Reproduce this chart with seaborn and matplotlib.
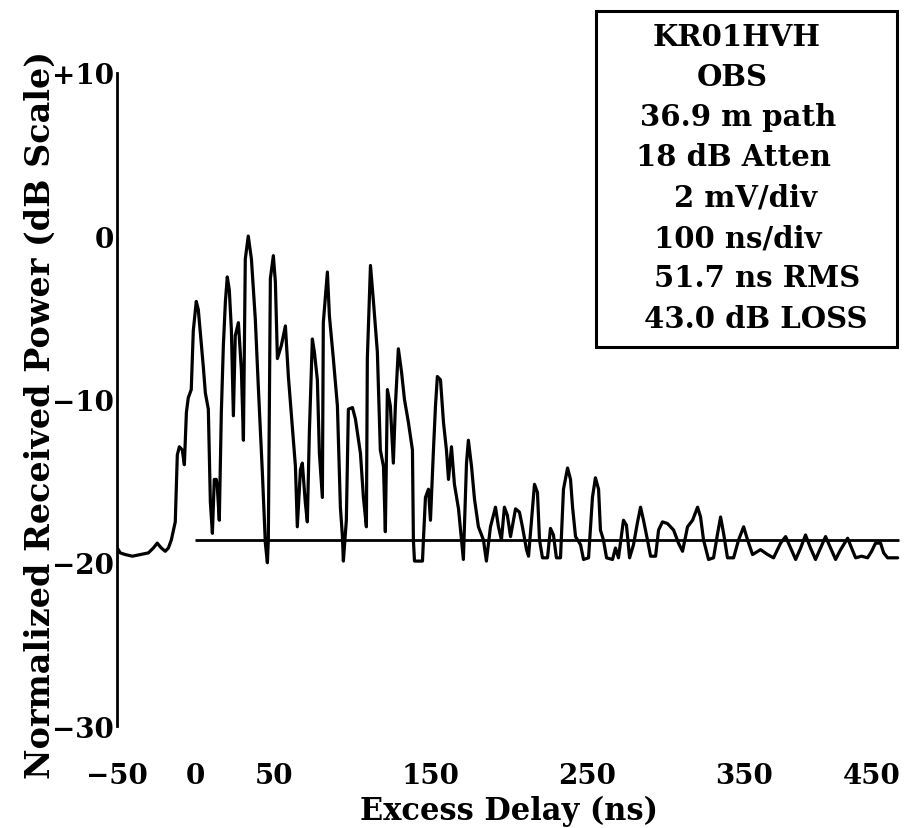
import numpy as np
import pandas as pd
import matplotlib
matplotlib.use("Agg")
import matplotlib.pyplot as plt
import seaborn as sns

# ---- data ----
delay_ns = [
    -49.8, -47.9, -44.7, -40.2, -35.1, -30.0, -26.8, -24.3, -21.7, -19.2,
    -17.2, -15.3, -12.8, -11.5, -10.2, -8.3, -7.0, -5.7, -4.5, -2.6,
    -1.3, 0.6, 1.9, 3.2, 5.1, 6.4, 8.3, 9.6, 10.9, 12.1,
    13.4, 14.0, 15.3, 16.6, 17.9, 19.2, 20.4, 21.7, 23.0, 24.3,
    25.5, 27.5, 29.4, 30.7, 31.9, 33.8, 35.8, 38.3, 40.2, 42.8,
    44.7, 46.0, 46.6, 47.9, 49.8, 51.1, 52.4, 54.9, 57.5, 59.4,
    61.9, 63.9, 65.1, 67.1, 68.3, 70.2, 71.5, 72.8, 74.7, 76.0,
    77.9, 79.2, 81.1, 81.7, 84.3, 85.6, 88.1, 90.7, 92.6, 93.9,
    94.5, 96.4, 97.7, 100.3, 102.2, 105.4, 107.3, 109.2, 109.8, 111.8,
    113.7, 116.2, 118.1, 120.1, 121.3, 122.6, 124.5, 126.4, 127.7, 129.6,
    131.6, 133.5, 136.0, 138.6, 139.2, 139.9, 145.0, 145.6, 146.9, 148.8,
    150.1, 152.0, 153.3, 154.5, 156.5, 158.4, 160.3, 161.6, 163.5, 165.4,
    168.0, 169.9, 171.1, 173.1, 174.3, 176.3, 178.2, 180.7, 183.9, 185.8,
    188.4, 191.6, 193.5, 195.4, 197.3, 199.2, 201.2, 204.4, 206.9, 208.8,
    211.4, 212.7, 215.2, 216.5, 218.4, 219.7, 221.6, 224.8, 226.7, 228.6,
    230.5, 233.1, 235.0, 237.6, 239.5, 240.8, 242.7, 245.9, 247.8, 251.0,
    253.5, 255.4, 257.4, 258.6, 260.5, 262.5, 266.3, 268.2, 270.1, 273.3,
    275.2, 277.2, 279.7, 282.3, 284.2, 286.1, 288.6, 290.6, 293.8, 295.7,
    298.2, 301.4, 305.3, 308.4, 311.0, 314.2, 317.4, 320.6, 322.5, 324.4,
    327.6, 330.8, 333.4, 335.3, 337.2, 339.7, 343.6, 346.8, 350.0, 352.5,
    355.7, 360.8, 365.3, 369.1, 373.6, 376.8, 380.0, 383.2, 386.4, 389.5,
    392.7, 395.9, 399.1, 402.3, 405.5, 408.7, 411.9, 416.4, 418.9, 421.5,
    425.3, 429.1, 431.7, 434.2, 437.4, 439.4, 441.9, 448.3,
]
power_db = [
    -19.1, -19.4, -19.5, -19.6, -19.5, -19.4, -19.1, -18.8, -19.1, -19.3,
    -19.1, -18.6, -17.5, -13.4, -12.9, -13.1, -14.0, -10.8, -9.9, -9.4,
    -5.8, -4.0, -4.5, -5.9, -8.0, -9.6, -10.6, -16.3, -18.2, -14.9,
    -14.9, -15.3, -17.4, -10.8, -6.7, -4.0, -2.5, -3.3, -5.7, -11.0,
    -6.1, -5.3, -8.2, -12.5, -1.4, 0.0, -1.4, -5.1, -9.2, -14.5,
    -18.8, -20.0, -18.6, -2.6, -1.2, -2.8, -7.5, -6.7, -5.5, -8.6,
    -11.7, -14.1, -17.8, -14.3, -13.9, -16.3, -17.5, -12.0, -6.3, -7.1,
    -8.8, -13.3, -16.0, -5.3, -2.2, -4.9, -7.5, -10.4, -16.6, -18.4,
    -19.9, -17.4, -10.6, -10.5, -11.2, -13.3, -16.0, -17.8, -7.5, -1.8,
    -4.0, -7.1, -13.1, -14.1, -18.1, -9.4, -10.4, -13.9, -10.4, -6.9,
    -8.3, -10.0, -11.4, -13.1, -18.6, -19.9, -19.9, -18.6, -16.0, -15.5,
    -17.4, -13.1, -10.4, -8.6, -8.8, -11.4, -13.1, -14.9, -12.9, -15.2,
    -16.7, -18.6, -19.8, -13.9, -12.5, -14.1, -16.1, -17.8, -18.6, -19.9,
    -17.8, -16.6, -17.8, -18.6, -16.6, -17.1, -18.4, -16.7, -16.9, -17.8,
    -19.2, -19.6, -16.7, -15.2, -15.7, -18.6, -19.7, -19.7, -17.9, -18.3,
    -19.7, -19.7, -15.5, -14.2, -14.9, -16.6, -18.4, -18.9, -19.8, -19.7,
    -16.0, -14.8, -15.5, -18.0, -18.6, -19.7, -19.8, -19.1, -19.7, -17.4,
    -17.7, -19.7, -18.9, -17.5, -16.6, -17.4, -18.6, -19.6, -19.6, -18.0,
    -17.5, -17.6, -18.0, -18.8, -19.3, -17.8, -17.4, -16.6, -17.2, -18.6,
    -19.8, -19.7, -18.2, -17.2, -18.2, -19.7, -19.7, -18.6, -17.8, -18.6,
    -19.5, -19.2, -19.5, -19.7, -18.8, -18.4, -19.1, -19.8, -19.1, -18.3,
    -19.1, -19.8, -19.1, -18.4, -19.1, -19.8, -19.2, -18.5, -19.1, -19.7,
    -19.6, -19.7, -19.3, -18.8, -18.8, -19.4, -19.7, -19.7,
]

# noise threshold line
threshold_db = -18.6
threshold_start_ns = 0
threshold_end_ns = 449

x_ticks = [-50, 0, 50, 150, 250, 350, 450]
x_tick_labels = ["\u221250", "0", "50", "150", "250", "350", "450"]
y_ticks = [-30, -20, -10, 0, 10]
y_tick_labels = ["\u221230", "\u221220", "\u221210", "0", "+10"]

info_lines = ["KR01HVH", "OBS", "36.9 m path", "18 dB Atten",
              "2 mV/div", "100 ns/div", "51.7 ns RMS", "43.0 dB LOSS"]

df = pd.DataFrame({"delay": delay_ns, "power": power_db})

# ---- style ----
sns.set_theme(style="white")
plt.rcParams["font.family"] = ["DejaVu Serif"]
plt.rcParams["font.weight"] = "bold"

fig = plt.figure(figsize=(9.14, 8.29), dpi=100)
ax = fig.add_axes([0.128, 0.123, 0.857, 0.788])

sns.lineplot(data=df, x="delay", y="power", ax=ax, color="black",
             linewidth=2.3, sort=False, estimator=None)
ax.hlines(threshold_db, threshold_start_ns, threshold_end_ns,
          color="black", linewidth=2.0)

ax.set_xlim(-50, 450)
ax.set_ylim(-30, 10)

for side in ["top", "right", "bottom"]:
    ax.spines[side].set_visible(False)
ax.spines["left"].set_color("black")
ax.spines["left"].set_linewidth(2.0)

ax.set_xticks(x_ticks)
ax.set_xticklabels(x_tick_labels)
ax.set_yticks(y_ticks)
ax.set_yticklabels(y_tick_labels)
ax.tick_params(axis="x", length=0, pad=26, labelsize=20, colors="black")
ax.tick_params(axis="y", direction="in", length=11, width=2.0, pad=2,
               labelsize=20, colors="black")
for lab in ax.get_xticklabels() + ax.get_yticklabels():
    lab.set_fontweight("bold")
# last label sits flush with the right edge, as in the scan
ax.get_xticklabels()[-1].set_horizontalalignment("right")

ax.set_xlabel("Excess Delay (ns)", fontsize=22, fontweight="bold", color="black")
ax.set_ylabel("Normalized Received Power (dB Scale)", fontsize=24,
              fontweight="bold", color="black")
ax.xaxis.set_label_coords(0.5, -0.105)
ax.yaxis.set_label_coords(-0.077, 0.478)

# ---- info box ----
W, H = 914, 829
box = plt.Rectangle((596 / W, 1 - 348 / H), (897 - 596) / W, (348 - 12) / H,
                    transform=fig.transFigure, fill=False, edgecolor="black",
                    linewidth=2.2)
fig.add_artist(box)
line_cx = [737, 732, 738, 733, 745, 738, 757, 756]
for i, (txt, cx) in enumerate(zip(info_lines, line_cx)):
    cy = 37 + i * 40.3
    fig.text(cx / W, 1 - cy / H, txt, ha="center", va="center",
             fontsize=21, fontweight="bold", color="black")

fig.savefig("out.png", dpi=100, facecolor="white")
